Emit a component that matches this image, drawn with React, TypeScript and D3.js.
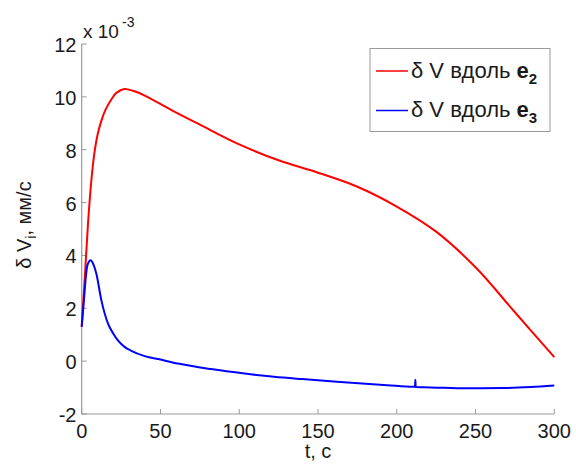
import React from "react";
import * as d3 from "d3";

const redT = [0, 2, 4, 6, 8, 10, 12.5, 15, 19, 22, 27, 33, 40, 57, 75, 100, 125, 150, 175, 200, 225, 250, 275, 300];
const redV = [1.3, 3.2, 5.2, 6.75, 7.85, 8.55, 9.1, 9.5, 9.92, 10.15, 10.3, 10.22, 10.05, 9.5, 8.95, 8.2, 7.6, 7.13, 6.6, 5.85, 4.9, 3.55, 1.85, 0.15];

const blueT = [0, 1, 2, 3, 4, 5.7, 7.5, 9.3, 12.5, 16.7, 20, 23, 27, 31.5, 40, 50, 61, 82, 103.5, 122, 140, 162, 194, 210.5, 211.6, 211.8, 212.0, 217, 230, 246.5, 268, 285, 300];
const blueV = [1.3, 2.0, 2.75, 3.4, 3.7, 3.82, 3.65, 3.31, 2.3, 1.42, 1.05, 0.79, 0.55, 0.39, 0.19, 0.06, -0.09, -0.3, -0.47, -0.59, -0.68, -0.78, -0.91, -0.97, -0.97, -0.7, -0.98, -0.99, -1.01, -1.03, -1.02, -0.98, -0.92];

const xTicks = [0, 50, 100, 150, 200, 250, 300];
const yTicks = [-2, 0, 2, 4, 6, 8, 10, 12];

const axisColor = "#999999";
const font = "Arial, 'Liberation Sans', sans-serif";

export default function App() {
  const x = d3.scaleLinear().domain([0, 300]).range([81.7, 554.3]);
  const y = d3.scaleLinear().domain([-2, 12]).range([414, 44]);
  const redLine = d3
    .line<[number, number]>()
    .x((d) => x(d[0]))
    .y((d) => y(d[1]))
    .curve(d3.curveCatmullRom.alpha(0.5));
  const blueLine = d3
    .line<[number, number]>()
    .x((d) => x(d[0]))
    .y((d) => y(d[1]))
    .curve(d3.curveMonotoneX);
  const red = redT.map((t, i) => [t, redV[i]] as [number, number]);
  const blue = blueT.map((t, i) => [t, blueV[i]] as [number, number]);
  const x0 = x(0);
  const yB = y(-2);
  return (
    <svg width={576} height={466} style={{ position: "absolute", left: 0, top: 0, background: "#fff" }} fontFamily={font}>
      <rect x={0} y={0} width={576} height={466} fill="#fff" />
      {/* axes */}
      <line x1={x0} x2={x(300)} y1={yB} y2={yB} stroke={axisColor} strokeWidth={1.2} />
      <line x1={x0} x2={x0} y1={y(12)} y2={yB} stroke={axisColor} strokeWidth={1.2} />
      {xTicks.map((t) => (
        <g key={"xt" + t}>
          <line x1={x(t)} x2={x(t)} y1={yB} y2={yB - 5} stroke={axisColor} strokeWidth={1} />
          <text x={x(t)} y={438} textAnchor="middle" fontSize={20} fill="#1a1a1a">
            {t}
          </text>
        </g>
      ))}
      {yTicks.map((v) => (
        <g key={"yt" + v}>
          <line x1={x0} x2={x0 + 5} y1={y(v)} y2={y(v)} stroke={axisColor} strokeWidth={1} />
          <text x={76.5} y={y(v) + 8} textAnchor="end" fontSize={20} fill="#1a1a1a">
            {v}
          </text>
        </g>
      ))}
      {/* exponent */}
      <text x={83} y={38} fontSize={19} fill="#1a1a1a">
        x 10
      </text>
      <text x={122} y={27} fontSize={14} fill="#1a1a1a">
        -3
      </text>
      {/* axis labels */}
      <text x={318} y={458} textAnchor="middle" fontSize={20} fill="#1a1a1a">
        t, с
      </text>
      <text transform="translate(31,225) rotate(-90)" textAnchor="middle" fontSize={20} fill="#1a1a1a">
        δ V<tspan fontSize={14} dy={5}>i</tspan>
        <tspan dy={-5}>, мм/с</tspan>
      </text>
      {/* data */}
      <path d={redLine(red) ?? ""} fill="none" stroke="#ff0000" strokeWidth={2} />
      <path d={blueLine(blue) ?? ""} fill="none" stroke="#0000ff" strokeWidth={2} />
      {/* legend */}
      <rect x={370} y={48.5} width={180} height={83} fill="#fff" stroke={axisColor} strokeWidth={1} />
      <line x1={376} x2={408} y1={71} y2={71} stroke="#ff0000" strokeWidth={1.5} />
      <line x1={376} x2={408} y1={110.5} y2={110.5} stroke="#0000ff" strokeWidth={1.5} />
      <text x={411} y={77.5} fontSize={22} fill="#1a1a1a">
        δ V вдоль <tspan fontWeight="bold">e</tspan>
        <tspan fontWeight="bold" fontSize={15} dy={6}>2</tspan>
      </text>
      <text x={411} y={117} fontSize={22} fill="#1a1a1a">
        δ V вдоль <tspan fontWeight="bold">e</tspan>
        <tspan fontWeight="bold" fontSize={15} dy={6}>3</tspan>
      </text>
    </svg>
  );
}
